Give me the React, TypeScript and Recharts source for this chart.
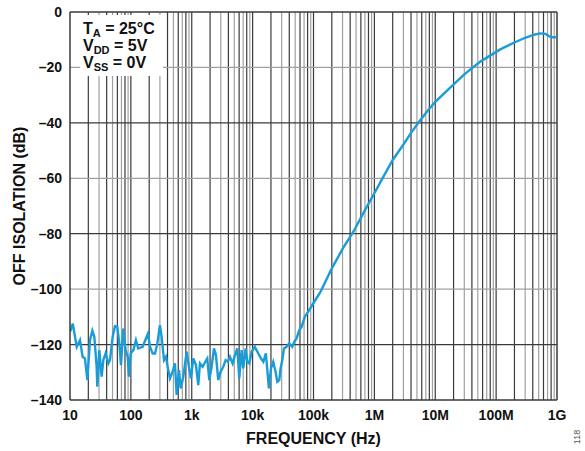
import { LineChart, Line, XAxis, YAxis, ReferenceLine } from 'recharts'

// noise floor (Hz, dB)
const floorFreq = [
  10, 11.1, 12.9, 14.6, 16.1, 17.6, 19.3, 21.3, 23.3, 25.1, 27.4, 28.1, 30.3, 33.1, 35.3, 38.5, 42.6, 45.4, 50.2, 54.8,
  59.8, 64.6, 68.8, 75.1, 82, 88.5, 93.1, 99, 110, 121, 132, 156, 177, 191, 206, 228, 249, 272, 300, 320,
  350, 377, 402, 439, 485, 530, 565, 617, 657, 727, 824, 899, 971, 1060, 1172, 1280, 1364, 1508, 1667, 1798,
  1942, 2120, 2317, 2496, 2727, 2981, 3296, 3600, 3930, 4240, 4690, 5120, 5600, 6030, 6590, 7020, 7670, 8170, 8810, 9620,
  10900, 12400, 13700, 15000, 16500, 18500, 20000, 21800, 23800, 25400, 27400, 28800, 30700, 32700, 36100, 39900, 44800, 48300, 52700, 58300,
  63700, 72300, 81900,
]
const floorDb = [
  -115.4, -112.4, -120.8, -118.4, -124.4, -125, -132.8, -118.4, -115, -117.2, -128, -135.2, -122, -131.6, -125.6, -123.2, -126.8, -125.6, -117.2, -113.4,
  -113.6, -119.6, -127.4, -114.2, -122, -124.4, -131.6, -123.2, -122, -118.4, -121.4, -120.8, -117.8, -116, -120.8, -123.2, -123.2, -119.6, -113, -117.2,
  -125.6, -124.4, -128, -132.2, -129.8, -126.8, -138.2, -129.2, -135.8, -131.6, -122.6, -128, -132.2, -125, -127.4, -134.6, -126.8, -128, -126.2, -125,
  -132.8, -128, -121.4, -123.8, -132.8, -129.8, -128, -125.6, -126.2, -124.4, -126.8, -123.8, -121.4, -132.2, -122, -128.6, -121.4, -126.2, -126.8, -122.6,
  -120.8, -123.2, -125, -126.2, -123.2, -135.8, -128.6, -126.2, -129.8, -133.4, -132.8, -128.6, -125.6, -121.4, -120.8, -119.6, -120.8, -119, -117.8, -114.8,
  -113.6, -109.9, -108.1,
]

// rising part above ~100 kHz
const riseFreq = [1e5, 1.3e5, 2e5, 3e5, 4.6e5, 7e5, 1e6, 1.4e6, 2e6, 3e6, 4e6, 5.7e6, 7.5e6, 1e7, 1.78e7, 3e7, 5.5e7, 1.17e8, 2e8, 3e8, 4.2e8, 5.3e8, 6.5e8, 7.5e8, 8.5e8, 1e9]
const riseDb = [-105, -101, -92.5, -85.5, -79, -71.5, -65.4, -59.5, -53.4, -47.8, -43.6, -39, -35.6, -32.4, -27.2, -22.5, -17.9, -13.5, -11, -9.3, -8.2, -7.7, -7.9, -8.8, -9.1, -9.1]

const freqTicks = [10, 100, 1e3, 1e4, 1e5, 1e6, 1e7, 1e8, 1e9]
const freqTickLabels = ['10', '100', '1k', '10k', '100k', '1M', '10M', '100M', '1G']
const dbTicks = [-140, -120, -100, -80, -60, -40, -20, 0]

const data = [
  ...floorFreq.map((f, i) => ({ f, db: floorDb[i] })),
  ...riseFreq.map((f, i) => ({ f, db: riseDb[i] })),
]

// minor grid: 1..9 x each decade
const gridFreqs: { f: number; dark: boolean }[] = []
freqTicks.slice(0, -1).forEach((d) => {
  for (let m = 1; m <= 9; m++) gridFreqs.push({ f: d * m, dark: m % 2 === 0 || m === 1 })
})

const DARK = '#3a3a3a'
const GRAY = '#a0a0a0'
const font = '"Liberation Sans", Arial, sans-serif'

const fmtFreq = (v: number) => freqTickLabels[freqTicks.indexOf(v)] ?? ''
const fmtDb = (v: number) => (v < 0 ? `\u2013${-v}` : `${v}`)

export default function App() {
  return (
    <div style={{ position: 'absolute', left: 0, top: 0, width: 585, height: 451, background: '#fff', fontFamily: font }}>
      <LineChart width={585} height={451} data={data} margin={{ top: 12, right: 28, bottom: 6, left: 10 }}>
        <XAxis
          dataKey="f"
          type="number"
          scale="log"
          domain={[10, 1e9]}
          ticks={freqTicks}
          tickFormatter={fmtFreq}
          allowDataOverflow
          height={45}
          tickLine={false}
          tickMargin={4}
          axisLine={{ stroke: DARK, strokeWidth: 1.5 }}
          tick={{ fill: '#111', fontSize: 14, fontWeight: 'bold', fontFamily: font }}
          label={{ value: 'FREQUENCY (Hz)', position: 'insideBottom', offset: 1, fill: '#111', fontSize: 16, fontWeight: 'bold', fontFamily: font }}
        />
        <YAxis
          type="number"
          domain={[-140, 0]}
          ticks={dbTicks}
          tickFormatter={fmtDb}
          width={60}
          tickLine={false}
          axisLine={{ stroke: DARK, strokeWidth: 1.5 }}
          tick={{ fill: '#111', fontSize: 14, fontWeight: 'bold', fontFamily: font }}
        />
        {gridFreqs.slice(1).map((g) => (
          <ReferenceLine key={g.f} x={g.f} stroke={g.dark ? DARK : GRAY} strokeWidth={1.2} />
        ))}
        {dbTicks.slice(1, -1).map((v) => (
          <ReferenceLine key={v} y={v} stroke={v % 40 === 0 ? DARK : GRAY} strokeWidth={1.2} />
        ))}
        <ReferenceLine y={0} stroke={DARK} strokeWidth={1.5} />
        <ReferenceLine x={1e9} stroke={DARK} strokeWidth={1.5} />
        <Line type="linear" dataKey="db" stroke="#1a9cd8" strokeWidth={2.4} dot={false} isAnimationActive={false} />
      </LineChart>

      <div style={{ position: 'absolute', left: 80, top: 15, width: 83, height: 61, background: '#fff', color: '#111', fontWeight: 'bold', fontSize: 16, lineHeight: '16px' }}>
        <div style={{ paddingTop: 6, paddingLeft: 3 }}>
          <div>T<span style={{ fontSize: 11, position: 'relative', top: 3 }}>A</span> = 25°C</div>
          <div>V<span style={{ fontSize: 11, position: 'relative', top: 3 }}>DD</span> = 5V</div>
          <div>V<span style={{ fontSize: 11, position: 'relative', top: 3 }}>SS</span> = 0V</div>
        </div>
      </div>

      <div style={{ position: 'absolute', left: 20, top: 206, transform: 'translate(-50%, -50%) rotate(-90deg)', whiteSpace: 'nowrap', fontWeight: 'bold', fontSize: 16, color: '#111' }}>
        OFF ISOLATION (dB)
      </div>
      <div style={{ position: 'absolute', left: 577, top: 437, transform: 'translate(-50%, -50%) rotate(-90deg)', fontSize: 9, color: '#555' }}>
        118
      </div>
    </div>
  )
}
